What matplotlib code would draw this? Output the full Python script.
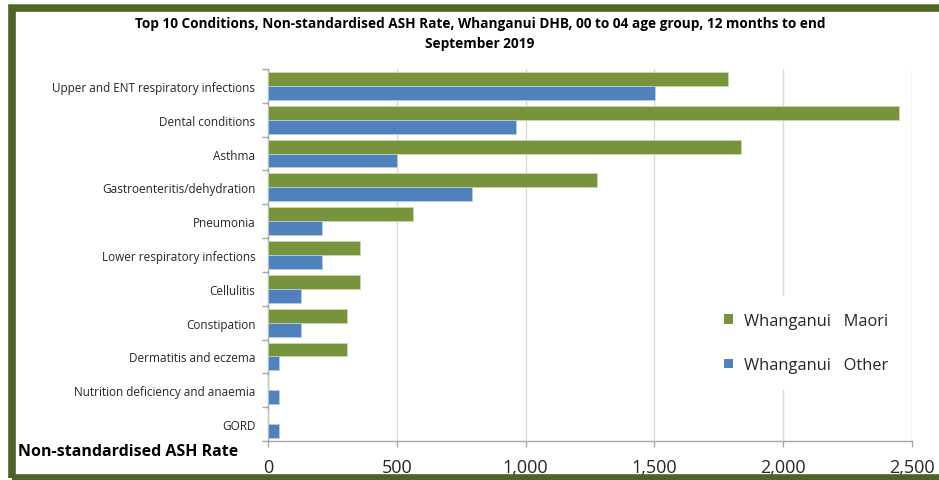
import numpy as np
import matplotlib
matplotlib.use("Agg")
import matplotlib.pyplot as plt
from matplotlib.patches import Rectangle, Patch

plt.rcParams['font.family'] = ['Open Sans', 'DejaVu Sans']

conditions = ["Upper and ENT respiratory infections", "Dental conditions", "Asthma",
              "Gastroenteritis/dehydration", "Pneumonia", "Lower respiratory infections",
              "Cellulitis", "Constipation", "Dermatitis and eczema",
              "Nutrition deficiency and anaemia", "GORD"]
maori = [1787, 2450, 1836, 1278, 562, 358, 358, 308, 308, 0, 0]
other = [1503, 962, 501, 793, 208, 208, 127, 127, 44, 44, 44]
series_names = ["Whanganui   Maori", "Whanganui   Other"]
x_ticks = [0, 500, 1000, 1500, 2000, 2500]

green = "#77933c"
blue = "#4f81bd"
grid_col = "#d9d9d9"

W, H = 939, 481
fig = plt.figure(figsize=(W / 100, H / 100), dpi=100)
ax = fig.add_axes([268 / W, 1 - 442 / H, (912 - 268) / W, (442 - 70) / H])

y = np.arange(len(conditions))
h = 0.41
ax.barh(y - h / 2, maori, height=h, color=green, edgecolor="#c9d8b0", linewidth=0.6, zorder=3)
ax.barh(y + h / 2, other, height=h, color=blue, edgecolor="#b9cde5", linewidth=0.6, zorder=3)

ax.set_ylim(len(conditions) - 0.5, -0.5)
ax.set_xlim(0, 2500)
ax.set_xticks(x_ticks)
ax.set_xticklabels([f"{v:,}" for v in x_ticks], fontsize=13, color="#262626")
ax.set_yticks(y)
ax.set_yticklabels(conditions, fontsize=8.5, color="#262626")
ax.set_yticks(np.arange(len(conditions) + 1) - 0.5, minor=True)
ax.tick_params(axis="y", which="major", length=0, pad=9)
ax.tick_params(axis="y", which="minor", length=4, color="#a6a6a6", width=1)
ax.tick_params(axis="x", length=4, color="#a6a6a6", width=1, pad=8)

ax.grid(axis="x", color=grid_col, linewidth=1, zorder=0)
ax.set_axisbelow(True)
for s in ["top", "right"]:
    ax.spines[s].set_visible(False)
for s in ["left", "bottom"]:
    ax.spines[s].set_color("#a6a6a6")
    ax.spines[s].set_linewidth(1)

handles = [Patch(facecolor=green), Patch(facecolor=blue)]
leg = ax.legend(handles, series_names, loc="center left", bbox_to_anchor=((708 - 268) / 644, 1 - (344 - 70) / 372),
                frameon=True, facecolor="white", edgecolor="none", framealpha=1, fontsize=11.8,
                handlelength=0.55, handleheight=0.55, handletextpad=0.65, labelspacing=1.75, borderpad=1.0,
                borderaxespad=0)
for t in leg.get_texts():
    t.set_color("#262626")

fig.text(480 / W, 1 - 24 / H, "Top 10 Conditions, Non-standardised ASH Rate, Whanganui DHB, 00 to 04 age group, 12 months to end",
         ha="center", va="center", fontsize=9.8, fontweight="bold")
fig.text(480 / W, 1 - 44 / H, "September 2019", ha="center", va="center", fontsize=9.8, fontweight="bold")
fig.text(18 / W, 1 - 452 / H, "Non-standardised ASH Rate", ha="left", va="center", fontsize=11.5, fontweight="bold")

# green frame
fig.patches.append(Rectangle((11.5 / W, 2.5 / H), 1.2, 1 - 11 / H, transform=fig.transFigure,
                             fill=False, edgecolor="#4f6228", linewidth=5.5))
fig.patches.append(Rectangle((8 / W, 1 - 6 / H), 1.0, 1.5 / H, transform=fig.transFigure,
                             facecolor="#77a83c", edgecolor="none"))

fig.savefig("out.png", dpi=100)
